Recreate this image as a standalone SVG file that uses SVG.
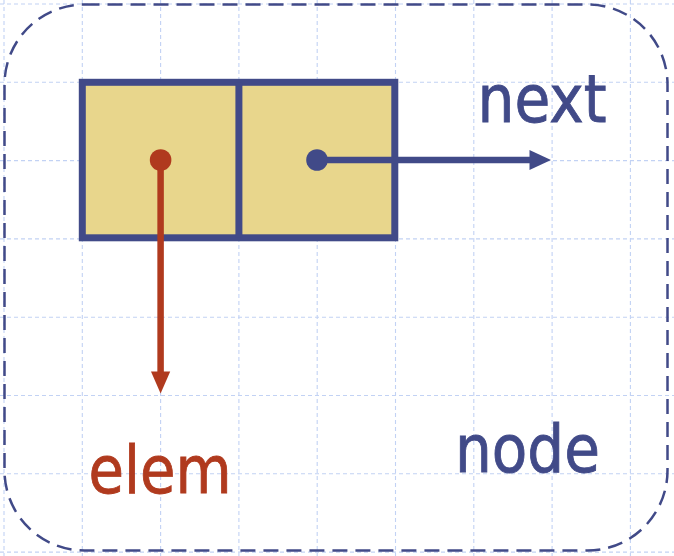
<svg xmlns="http://www.w3.org/2000/svg" width="674" height="556" viewBox="0 0 674 556">
<style>
.grid line{stroke:#c2d2f4;stroke-width:1.1;stroke-dasharray:4 3;fill:none}
.navy{fill:#414a88;stroke:#414a88}
.red{fill:#b03a1e;stroke:#b03a1e}
.lbl{font-family:"DejaVu Sans","Liberation Sans",sans-serif;font-size:66px;stroke-width:0.9}
</style>
<rect x="0" y="0" width="674" height="556" fill="#ffffff"/>
<g class="grid" id="grid">
<line x1="4" y1="0" x2="4" y2="556"/>
<line x1="82.3" y1="0" x2="82.3" y2="556"/>
<line x1="160.6" y1="0" x2="160.6" y2="556"/>
<line x1="238.9" y1="0" x2="238.9" y2="556"/>
<line x1="317.2" y1="0" x2="317.2" y2="556"/>
<line x1="395.5" y1="0" x2="395.5" y2="556"/>
<line x1="473.8" y1="0" x2="473.8" y2="556"/>
<line x1="552.1" y1="0" x2="552.1" y2="556"/>
<line x1="630.4" y1="0" x2="630.4" y2="556"/>
<line x1="0" y1="4" x2="674" y2="4"/>
<line x1="0" y1="82.3" x2="674" y2="82.3"/>
<line x1="0" y1="160.6" x2="674" y2="160.6"/>
<line x1="0" y1="238.9" x2="674" y2="238.9"/>
<line x1="0" y1="317.2" x2="674" y2="317.2"/>
<line x1="0" y1="395.5" x2="674" y2="395.5"/>
<line x1="0" y1="473.8" x2="674" y2="473.8"/>
<line x1="0" y1="552.1" x2="674" y2="552.1"/>
</g>
<g id="node-container">
<rect x="4.5" y="4.5" width="663" height="546" rx="80" ry="80" fill="none" stroke="#414a88" stroke-width="2.5" stroke-dasharray="15 8"/>
<text class="lbl navy" x="455" y="471.7" textLength="145" lengthAdjust="spacingAndGlyphs">node</text>
</g>
<g id="node-box">
<rect x="82.3" y="82.3" width="312.5" height="155.5" fill="#e8d68c" stroke="#414a88" stroke-width="7"/>
<line x1="238.9" y1="82.3" x2="238.9" y2="237.8" stroke="#414a88" stroke-width="7"/>
</g>
<g id="label-next">
<text class="lbl navy" x="477.5" y="121.5" textLength="129" lengthAdjust="spacingAndGlyphs">next</text>
</g>
<g id="label-elem">
<text class="lbl red" x="88.5" y="492.7" textLength="143" lengthAdjust="spacingAndGlyphs">elem</text>
</g>
<g id="connectors">
<line x1="160.6" y1="160" x2="160.6" y2="373" stroke="#b03a1e" stroke-width="6.5"/>
<circle cx="160.6" cy="160" r="10.8" fill="#b03a1e"/>
<polygon points="151,371.5 170.2,371.5 160.6,393.5" fill="#b03a1e"/>
<line x1="317" y1="160" x2="531" y2="160" stroke="#414a88" stroke-width="6.5"/>
<circle cx="317" cy="160" r="10.8" fill="#414a88"/>
<polygon points="529.5,150 529.5,170 551,160" fill="#414a88"/>
</g>
</svg>
